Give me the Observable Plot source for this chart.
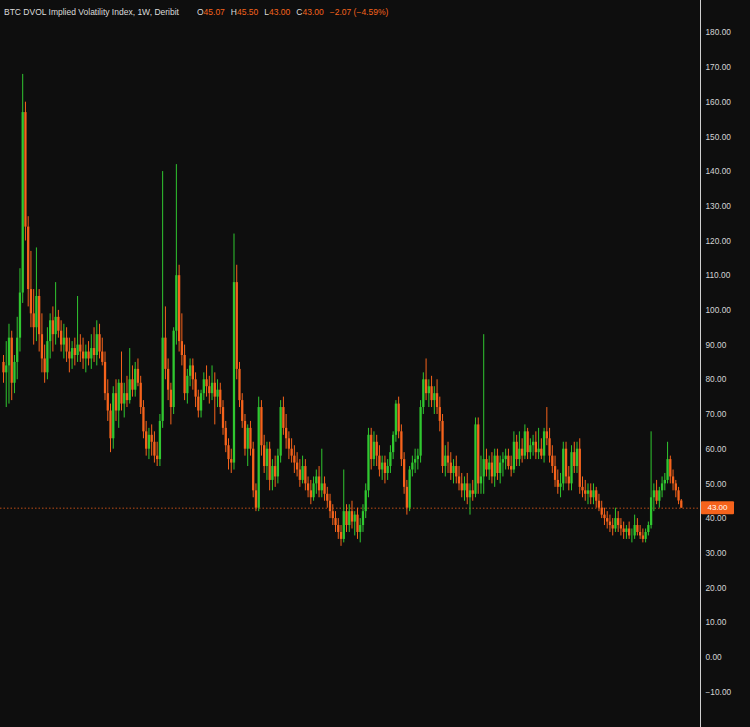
<!DOCTYPE html>
<html>
<head>
<meta charset="utf-8">
<script src="https://cdn.jsdelivr.net/npm/d3@7"></script>
<script src="https://cdn.jsdelivr.net/npm/@observablehq/plot@0.6"></script>
<style>
  html, body { margin: 0; padding: 0; background: #0e0e0e; }
  #chart { width: 750px; height: 727px; }
</style>
</head>
<body>
<div id="chart"></div>
<script>
// Weekly BTC DVOL candles, oldest first
const open = [85,82,84,92,79,85,92,105,157,124,106,99,95,104,93,86,82,91,97,93,
98,94,90,92,88,86,89,87,90,88,86,88,86,89,87,93,88,85,76,71,
63,76,71,79,73,76,74,80,77,83,79,72,65,60,64,62,58,57,68,92,
83,77,72,94,110,91,87,76,81,84,80,75,71,76,80,78,76,79,75,77,
72,66,61,57,56,108,83,74,68,60,66,60,48,43,72,61,55,60,51,55,
52,58,72,66,63,60,58,56,54,51,55,50,48,46,50,52,48,50,47,45,
42,40,38,36,34,42,38,42,39,41,36,38,42,48,64,57,62,58,54,56,
53,55,59,64,73,65,57,49,43,54,56,57,58,72,80,76,78,74,76,72,
68,55,58,56,53,55,52,50,48,50,46,48,47,67,50,52,57,54,56,52,
58,53,56,57,58,55,54,62,57,60,58,65,59,61,62,59,60,58,65,63,
58,55,51,49,50,60,52,50,59,55,60,49,48,47,48,46,48,45,43,41,
40,39,38,37,40,38,37,36,37,35,35,38,36,35,34,36,38,46,48,45,
48,50,51,57,52,50,48,45.07];
const high = [87,91,96,94,87,98,112,168,160,127,117,106,118,106,99,90,95,99,101,108,
100,97,96,95,92,91,92,104,93,92,90,91,93,95,97,96,92,88,80,73,
78,80,80,88,79,81,89,84,85,86,81,74,68,66,67,65,62,70,140,101,
86,79,95,142,113,99,90,83,86,86,82,77,77,82,84,81,84,82,80,79,
74,68,63,60,122,113,85,76,70,67,68,62,50,75,74,64,62,62,57,58,
60,74,75,70,65,63,61,59,57,58,57,52,51,52,54,55,60,52,49,47,
44,42,40,38,54,44,44,45,42,43,40,44,50,66,66,65,64,61,58,58,
57,61,65,74,75,67,59,51,55,58,60,60,74,82,86,80,81,78,80,75,
70,61,62,59,57,58,55,53,52,53,50,51,69,69,58,93,60,58,59,60,
60,58,59,60,60,58,65,64,65,63,67,66,63,64,65,66,63,66,72,66,
61,58,54,53,62,62,55,61,62,62,63,52,51,50,50,50,49,47,45,43,
42,41,40,43,42,40,39,38,39,37,41,40,38,37,37,39,65,50,51,49,
52,53,62,58,54,51,49,45.5];
const low = [79,72,73,74,76,80,88,102,120,101,95,90,91,88,82,79,80,86,88,90,
92,88,86,85,82,83,84,85,85,83,82,84,83,85,84,86,84,74,68,59,
60,68,66,71,69,72,73,75,75,78,70,63,58,57,58,56,55,55,66,80,
74,67,70,90,88,84,74,73,78,77,72,69,69,74,75,73,74,67,72,70,
64,59,54,53,54,80,72,66,58,55,58,46,42,42,58,53,51,48,48,49,
50,56,64,60,57,56,53,52,49,50,48,46,44,45,47,46,46,45,43,40,
38,36,34,32,33,36,36,37,35,34,33,36,40,46,54,55,55,52,51,50,
51,53,57,62,63,55,47,41,42,52,53,54,56,70,74,72,72,70,70,65,
53,52,53,51,50,50,48,46,45,44,41,45,46,47,47,47,52,51,50,49,
51,50,52,54,54,52,53,55,55,56,57,57,57,58,57,57,57,56,61,56,
53,49,47,46,48,50,48,48,53,53,47,46,45,44,44,44,43,42,40,38,
37,36,35,36,36,35,34,34,34,33,34,35,34,33,33,35,37,42,44,43,
46,48,50,50,48,46,44,43];
const close = [82,84,92,79,85,92,105,157,124,106,99,95,104,93,86,82,91,97,93,98,
94,90,92,88,86,89,87,90,88,86,88,86,89,87,93,88,85,76,71,63,
76,71,79,73,76,74,80,77,83,79,72,65,60,64,62,58,57,68,92,83,
77,72,94,110,91,87,76,81,84,80,75,71,76,80,78,76,79,75,77,72,
66,61,57,56,108,83,74,68,60,66,60,48,43,72,61,55,60,51,55,52,
58,72,66,63,60,58,56,54,51,55,50,48,46,50,52,48,50,47,45,42,
40,38,36,34,42,38,42,39,41,36,38,42,48,64,57,62,58,54,56,53,
55,59,64,73,65,57,49,43,54,56,57,58,72,80,76,78,74,76,72,68,
55,58,56,53,55,52,50,48,50,46,48,47,67,50,52,57,54,56,52,58,
53,56,57,58,55,54,62,57,60,58,65,59,61,62,59,60,58,65,63,58,
55,51,49,50,60,52,50,59,55,60,49,48,47,48,46,48,45,43,41,40,
39,38,37,40,38,37,36,37,35,35,38,36,35,34,36,38,46,48,45,48,
50,51,57,52,50,48,45.07,43];

const yTicks = [-10,0,10,20,30,40,50,60,70,80,90,100,110,120,130,140,150,160,170,180];
const titleText = "BTC DVOL Implied Volatility Index, 1W, Deribit";
const ohlcLabels = ["O", "H", "L", "C"];
const ohlcValues = ["45.07", "45.50", "43.00", "43.00"];
const changeText = "\u22122.07 (\u22124.59%)";

const green = "#30c730";
const orange = "#f5631c";
const fmt = d3.format(".2f");
const font = "'Liberation Sans', Arial, sans-serif";

const data = open.map((o, i) => ({i, o, h: high[i], l: low[i], c: close[i]}));
const col = d => d.c >= d.o ? green : orange;

const plot = Plot.plot({
  width: 750,
  height: 727,
  marginLeft: 0,
  marginRight: 50,
  marginTop: 0,
  marginBottom: 0,
  style: {background: "#0e0e0e", color: "#d4d4d4", fontFamily: font, fontSize: "8px"},
  x: {type: "linear", domain: [-1.09, 254.0], axis: null},
  y: {domain: [-20.2, 189.3], axis: null},
  color: {type: "identity"},
  marks: [
    Plot.ruleY([close[close.length - 1]], {stroke: orange, strokeOpacity: 0.75, strokeDasharray: "1.5,2", strokeWidth: 1}),
    Plot.ruleX(data, {x: "i", y1: "l", y2: "h", stroke: col, strokeWidth: 1}),
    Plot.ruleX(data, {x: "i", y1: "o", y2: "c", stroke: col, strokeWidth: 2.3}),
    Plot.frame({anchor: "right", stroke: "#cfcfcf", strokeWidth: 1}),
    Plot.axisY({anchor: "right", ticks: yTicks, tickSize: 0, tickPadding: 5, tickFormat: fmt, fill: "#d4d4d4", fontSize: 8.3})
  ]
});

document.getElementById("chart").appendChild(plot);

const svg = d3.select(plot);
const last = close[close.length - 1];
const yPos = plot.scale("y").apply(last);
svg.append("rect")
  .attr("x", 701).attr("y", yPos - 6.5).attr("width", 33).attr("height", 13)
  .attr("rx", 1).attr("fill", orange);
svg.append("text")
  .attr("x", 717.5).attr("y", yPos).attr("dy", "0.35em")
  .attr("text-anchor", "middle").attr("fill", "#ffffff")
  .attr("font-size", 8).attr("font-family", font)
  .text(fmt(last));

const t = svg.append("text")
  .attr("x", 4).attr("y", 15)
  .attr("text-anchor", "start")
  .attr("font-size", 8.5).attr("font-family", font)
  .attr("fill", "#dcdcdc");
t.append("tspan").text(titleText);
ohlcLabels.forEach((lab, k) => {
  t.append("tspan").attr("dx", k === 0 ? 18 : 6).attr("fill", "#dcdcdc").text(lab);
  t.append("tspan").attr("fill", orange).text(ohlcValues[k]);
});
t.append("tspan").attr("dx", 6).attr("fill", orange).text(changeText);
</script>
</body>
</html>
